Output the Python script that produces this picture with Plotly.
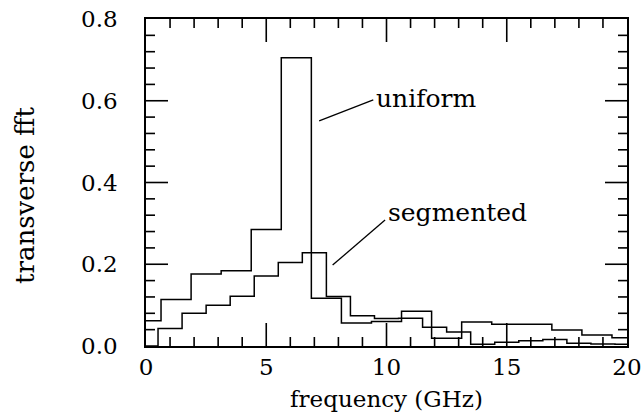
import plotly.graph_objects as go

# ---- data ----
uniform_freq = [0, 1.25, 2.5, 3.75, 5, 6.25, 7.5, 8.75, 10, 11.25, 12.5,
                13.75, 15, 16.25, 17.5, 18.75, 20]
uniform_fft = [0.062, 0.114, 0.176, 0.184, 0.285, 0.705, 0.117, 0.056, 0.060,
               0.085, 0.019, 0.059, 0.053, 0.053, 0.039, 0.027, 0.020]

segmented_freq = [0, 1, 2, 3, 4, 5, 6, 7, 8, 9, 10, 11, 12, 13, 14, 15, 16,
                  17, 18, 19, 20]
segmented_fft = [0.0, 0.043, 0.080, 0.100, 0.122, 0.171, 0.204, 0.228, 0.121,
                 0.074, 0.067, 0.068, 0.046, 0.034, 0.004, 0.009, 0.013,
                 0.016, 0.007, 0.005, 0.004]

x_ticks = [0, 5, 10, 15, 20]
x_tick_labels = ["0", "5", "10", "15", "20"]
y_ticks = [0.0, 0.2, 0.4, 0.6, 0.8]
y_tick_labels = ["0.0", "0.2", "0.4", "0.6", "0.8"]
x_minor_per_major = 5   # 1 GHz minor spacing
y_minor_per_major = 5   # 0.04 minor spacing

FONT = "DejaVu Serif"
FS = 23
X_RANGE = [x_ticks[0], x_ticks[-1]]
Y_RANGE = [y_ticks[0], y_ticks[-1]]

fig = go.Figure()
fig.add_trace(go.Scatter(x=uniform_freq, y=uniform_fft, mode="lines",
                         line=dict(shape="hvh", color="black", width=1.5),
                         name="uniform", showlegend=False))
fig.add_trace(go.Scatter(x=segmented_freq, y=segmented_fft, mode="lines",
                         line=dict(shape="hvh", color="black", width=1.5),
                         name="segmented", showlegend=False))

fig.update_xaxes(
    range=X_RANGE, tickmode="array", tickvals=x_ticks, ticktext=x_tick_labels,
    showline=True, linecolor="black", linewidth=1.5, mirror=True,
    ticks="", showgrid=False, zeroline=False,
    tickfont=dict(family=FONT, size=FS, color="black"),
    title=dict(text="frequency (GHz)", font=dict(family=FONT, size=FS, color="black"),
               standoff=12),
)
fig.update_yaxes(
    range=Y_RANGE, tickmode="array", tickvals=y_ticks, ticktext=y_tick_labels,
    showline=True, linecolor="black", linewidth=1.5, mirror=True,
    ticks="", showgrid=False, zeroline=False,
    tickfont=dict(family=FONT, size=FS, color="black"),
    ticklabelstandoff=22,
)

# ---- tick marks (inside, on all four sides) ----
tick_style = dict(color="black", width=1.6)

def minor_positions(majors, n):
    out = []
    for a, b in zip(majors[:-1], majors[1:]):
        step = (b - a) / n
        out += [a + k * step for k in range(1, n)]
    return out

x_minor = minor_positions(x_ticks, x_minor_per_major)
y_minor = minor_positions(y_ticks, y_minor_per_major)

for vals, length in ((x_ticks[1:-1], 23), (x_minor, 9)):
    for v in vals:
        # bottom
        fig.add_shape(type="line", xref="x", yref="y", ysizemode="pixel",
                      yanchor=Y_RANGE[0], x0=v, x1=v, y0=0, y1=length, line=tick_style)
        # top
        fig.add_shape(type="line", xref="x", yref="y", ysizemode="pixel",
                      yanchor=Y_RANGE[1], x0=v, x1=v, y0=0, y1=-length, line=tick_style)
for vals, length in ((y_ticks[1:-1], 22), (y_minor, 9)):
    for v in vals:
        # left
        fig.add_shape(type="line", xref="x", yref="y", xsizemode="pixel",
                      xanchor=X_RANGE[0], y0=v, y1=v, x0=0, x1=length, line=tick_style)
        # right
        fig.add_shape(type="line", xref="x", yref="y", xsizemode="pixel",
                      xanchor=X_RANGE[1], y0=v, y1=v, x0=0, x1=-length, line=tick_style)

# y-axis title
fig.add_annotation(text="transverse fft", xref="paper", yref="paper",
                   x=-0.2516, y=0.462, textangle=-90, showarrow=False,
                   xanchor="center", yanchor="middle",
                   font=dict(family=FONT, size=26, color="black"))

# labels with leader lines
labels = [
    dict(text="uniform", x0=7.2, y0=0.551, x1=9.45, y1=0.602, yshift=1),
    dict(text="segmented", x0=7.76, y0=0.198, x1=9.94, y1=0.308, yshift=8),
]
for lb in labels:
    fig.add_shape(type="line", x0=lb["x0"], y0=lb["y0"], x1=lb["x1"], y1=lb["y1"],
                  xref="x", yref="y", line=dict(color="black", width=1.3))
    fig.add_annotation(x=lb["x1"], y=lb["y1"], xref="x", yref="y", text=lb["text"],
                       showarrow=False, xanchor="left", yanchor="middle", xshift=1,
                       yshift=lb["yshift"],
                       font=dict(family=FONT, size=25, color="black"))

fig.update_layout(
    width=642, height=418,
    margin=dict(l=146, r=15, t=19, b=72, autoexpand=False),
    paper_bgcolor="white", plot_bgcolor="white",
    font=dict(family=FONT, size=FS, color="black"),
)

fig.write_html("out.html")
